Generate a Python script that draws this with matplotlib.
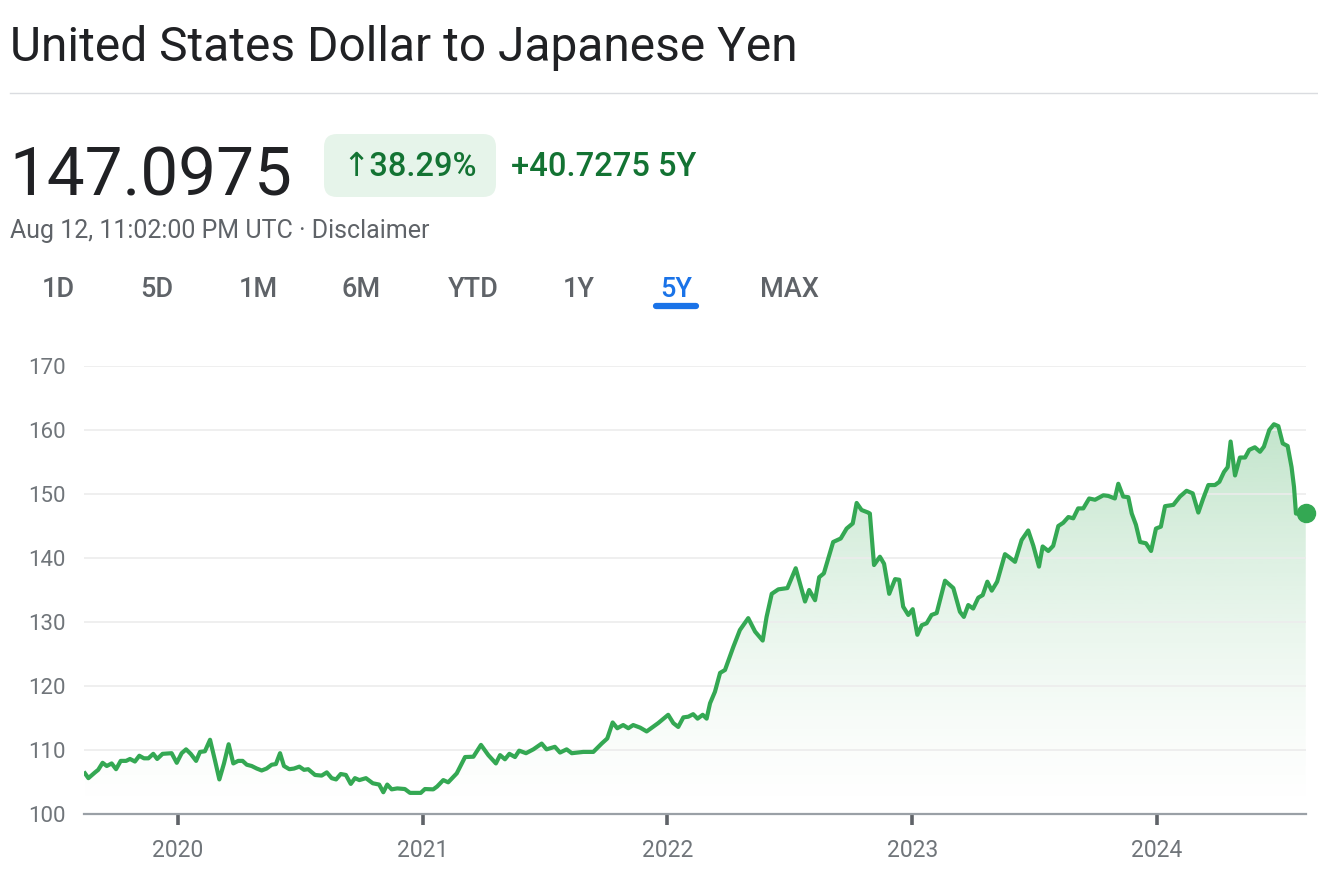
import numpy as np
import matplotlib
matplotlib.use("Agg")
import matplotlib.pyplot as plt
from matplotlib.patches import FancyBboxPatch, Polygon

plt.rcParams['font.family'] = ['Roboto', 'DejaVu Sans']

# ── DATA ──────────────────────────────────────────────────
dates = [
    2019.620, 2019.634, 2019.661, 2019.674, 2019.692, 2019.709, 2019.729, 2019.747,
    2019.766, 2019.788, 2019.804, 2019.824, 2019.842, 2019.861, 2019.879, 2019.899,
    2019.915, 2019.937, 2019.974, 2019.995, 2020.015, 2020.033, 2020.052, 2020.074,
    2020.090, 2020.110, 2020.131, 2020.151, 2020.169, 2020.188, 2020.207, 2020.226,
    2020.246, 2020.264, 2020.281, 2020.301, 2020.322, 2020.342, 2020.362, 2020.383,
    2020.400, 2020.417, 2020.433, 2020.455, 2020.474, 2020.496, 2020.515, 2020.532,
    2020.560, 2020.587, 2020.608, 2020.628, 2020.646, 2020.665, 2020.686, 2020.706,
    2020.723, 2020.741, 2020.768, 2020.796, 2020.822, 2020.839, 2020.855, 2020.873,
    2020.896, 2020.927, 2020.948, 2020.992, 2021.009, 2021.043, 2021.059, 2021.084,
    2021.104, 2021.139, 2021.173, 2021.207, 2021.238, 2021.268, 2021.299, 2021.316,
    2021.336, 2021.354, 2021.377, 2021.394, 2021.422, 2021.452, 2021.486, 2021.506,
    2021.540, 2021.561, 2021.588, 2021.609, 2021.656, 2021.697, 2021.731, 2021.754,
    2021.776, 2021.795, 2021.819, 2021.840, 2021.860, 2021.888, 2021.915, 2021.940,
    2021.962, 2022.003, 2022.024, 2022.044, 2022.065, 2022.085, 2022.105, 2022.123,
    2022.144, 2022.160, 2022.174, 2022.194, 2022.215, 2022.235, 2022.269, 2022.296,
    2022.330, 2022.358, 2022.389, 2022.405, 2022.426, 2022.453, 2022.490, 2022.524,
    2022.562, 2022.579, 2022.603, 2022.620, 2022.639, 2022.677, 2022.708, 2022.732,
    2022.757, 2022.773, 2022.793, 2022.820, 2022.827, 2022.844, 2022.868, 2022.885,
    2022.906, 2022.930, 2022.947, 2022.963, 2022.984, 2023.002, 2023.021, 2023.039,
    2023.059, 2023.079, 2023.100, 2023.134, 2023.168, 2023.195, 2023.211, 2023.229,
    2023.249, 2023.270, 2023.288, 2023.307, 2023.325, 2023.347, 2023.379, 2023.397,
    2023.420, 2023.447, 2023.474, 2023.495, 2023.518, 2023.533, 2023.556, 2023.576,
    2023.597, 2023.617, 2023.638, 2023.658, 2023.678, 2023.699, 2023.723, 2023.747,
    2023.781, 2023.801, 2023.828, 2023.842, 2023.862, 2023.883, 2023.897, 2023.914,
    2023.931, 2023.955, 2023.976, 2023.996, 2024.016, 2024.033, 2024.067, 2024.094,
    2024.121, 2024.146, 2024.169, 2024.189, 2024.210, 2024.237, 2024.255, 2024.274,
    2024.289, 2024.301, 2024.319, 2024.339, 2024.360, 2024.377, 2024.400, 2024.421,
    2024.437, 2024.459, 2024.478, 2024.496, 2024.514, 2024.534, 2024.550, 2024.560,
    2024.568, 2024.584, 2024.608,
]
rates = [
    106.35, 105.6, 106.5, 106.9, 108.0, 107.5, 107.9, 107.0,
    108.3, 108.3, 108.6, 108.2, 109.1, 108.7, 108.7, 109.4,
    108.6, 109.4, 109.5, 108.0, 109.5, 110.1, 109.4, 108.3,
    109.7, 109.8, 111.6, 108.4, 105.4, 107.9, 110.9, 107.9,
    108.3, 108.3, 107.7, 107.5, 107.1, 106.8, 107.1, 107.7,
    107.8, 109.5, 107.5, 107.0, 107.1, 107.4, 106.9, 107.0,
    106.1, 106.0, 106.5, 105.6, 105.4, 106.25, 106.1, 104.7,
    105.6, 105.3, 105.6, 104.8, 104.6, 103.4, 104.6, 103.85,
    104.0, 103.9, 103.3, 103.3, 103.9, 103.85, 104.3, 105.3,
    104.95, 106.35, 108.9, 108.95, 110.8, 109.2, 107.9, 109.2,
    108.55, 109.4, 108.9, 109.9, 109.5, 110.1, 111.0, 110.1,
    110.5, 109.6, 110.1, 109.5, 109.7, 109.7, 111.0, 111.8,
    114.3, 113.4, 113.9, 113.4, 113.9, 113.5, 112.9, 113.6,
    114.2, 115.5, 114.2, 113.6, 115.1, 115.2, 115.6, 114.9,
    115.5, 114.9, 117.3, 119.1, 122.05, 122.5, 126.1, 128.75,
    130.6, 128.5, 127.1, 130.8, 134.4, 135.1, 135.3, 138.4,
    133.2, 135.0, 133.4, 137.0, 137.6, 142.5, 143.05, 144.6,
    145.4, 148.6, 147.5, 147.1, 146.95, 138.9, 140.2, 139.1,
    134.4, 136.7, 136.6, 132.4, 131.1, 132.0, 128.0, 129.5,
    129.8, 131.1, 131.4, 136.45, 135.3, 131.6, 130.8, 132.65,
    132.1, 133.8, 134.2, 136.3, 134.9, 136.3, 140.6, 140.1,
    139.4, 142.8, 144.3, 141.9, 138.65, 141.8, 141.1, 141.9,
    145.0, 145.5, 146.4, 146.2, 147.75, 147.75, 149.3, 149.1,
    149.8, 149.7, 149.3, 151.6, 149.6, 149.5, 146.95, 145.2,
    142.5, 142.3, 141.1, 144.6, 144.9, 148.1, 148.3, 149.6,
    150.5, 150.1, 147.1, 149.3, 151.4, 151.4, 151.9, 153.45,
    154.2, 158.2, 152.9, 155.7, 155.7, 156.9, 157.3, 156.6,
    157.4, 160.0, 160.9, 160.6, 157.9, 157.5, 154.2, 151.1,
    146.95, 146.9, 147.0975,
]
year_ticks = [2020, 2021, 2022, 2023, 2024]
value_ticks = [100, 110, 120, 130, 140, 150, 160, 170]
tabs = ["1D", "5D", "1M", "6M", "YTD", "1Y", "5Y", "MAX"]
active_tab = "5Y"

# ── FIGURE ────────────────────────────────────────────────
W, H = 1318, 894
fig = plt.figure(figsize=(W / 100, H / 100), dpi=100)
fig.patch.set_facecolor("white")

GREEN = "#34a853"
x = np.array(dates)
y = np.array(rates)
x0, x1 = 2019.616, 2024.609

# chart axes
ax = fig.add_axes([84 / W, (H - 814) / H, (1306 - 84) / W, (814 - 366) / H])
ax.set_xlim(x0, x1)
ax.set_ylim(100, 170)

# gradient fill under the line
ymax = 161
grad = np.zeros((256, 1, 4))
grad[:, 0, :3] = matplotlib.colors.to_rgb(GREEN)
grad[:, 0, 3] = 0.30 * np.linspace(0, 1, 256) ** 1.4
im = ax.imshow(grad, extent=[x0, x[-1], 100, ymax], origin="lower",
               aspect="auto", zorder=0, interpolation="bilinear")
verts = [(x[0], 100)] + list(zip(x, y)) + [(x[-1], 100)]
clip = Polygon(verts, closed=True, facecolor="none", edgecolor="none")
ax.add_patch(clip)
im.set_clip_path(clip)

ax.plot(x, y, color=GREEN, lw=3.0, solid_joinstyle="round", zorder=3)
ax.plot(x[-1], y[-1], "o", ms=13, color=GREEN, clip_on=False, zorder=4)

ax.set_xlim(x0, x1)
ax.set_ylim(100, 170)
ax.set_yticks(value_ticks)
ax.set_xticks(year_ticks)
ax.set_xticklabels([str(v) for v in year_ticks])
ax.grid(axis="y", color="#ececec", lw=1.2)
for s in ["top", "right", "left"]:
    ax.spines[s].set_visible(False)
ax.spines["bottom"].set_color("#9aa0a6")
ax.spines["bottom"].set_linewidth(1.6)
ax.spines["bottom"].set_zorder(5)
ax.tick_params(axis="y", length=0, pad=13, labelsize=16, labelcolor="#70757a")
ax.tick_params(axis="x", length=8, width=2.6, color="#5f6368", pad=10,
               labelsize=16.5, labelcolor="#70757a")

# header, drawn in pixel coordinates
hdr = fig.add_axes([0, 0, 1, 1], zorder=-1)
hdr.set_xlim(0, W)
hdr.set_ylim(H, 0)
hdr.axis("off")

hdr.text(10, 61, "United States Dollar to Japanese Yen", fontsize=34.5,
         color="#202124", va="baseline", ha="left")
hdr.plot([10, W], [93, 93], color="#dadce0", lw=1)

hdr.text(9, 195, "147.0975", fontsize=48.5, color="#202124", va="baseline", ha="left")
hdr.add_patch(FancyBboxPatch((324, 134), 172, 63,
                             boxstyle="round,pad=0,rounding_size=13",
                             facecolor="#e6f4ea", edgecolor="none"))
hdr.text(410, 176, "\u219138.29%", fontsize=23.5, color="#137333",
         fontweight="medium", va="baseline", ha="center",
         family=["Roboto", "DejaVu Sans"])
hdr.text(511, 176, "+40.7275 5Y", fontsize=23.5, color="#137333",
         fontweight="medium", va="baseline", ha="left")
hdr.text(10, 238, "Aug 12, 11:02:00 PM UTC \u00b7 Disclaimer", fontsize=18,
         color="#5f6368", va="baseline", ha="left")

tab_x = [58, 157, 258, 361, 473, 579, 676, 789]
for label, tx in zip(tabs, tab_x):
    col = "#1a73e8" if label == active_tab else "#5f6368"
    hdr.text(tx, 297, label, fontsize=19.5, color=col, fontweight="medium",
             va="baseline", ha="center")
hdr.plot([656, 696], [306, 306], color="#1a73e8", lw=4.5, solid_capstyle="round")

fig.savefig("out.png", dpi=100, facecolor="white")
